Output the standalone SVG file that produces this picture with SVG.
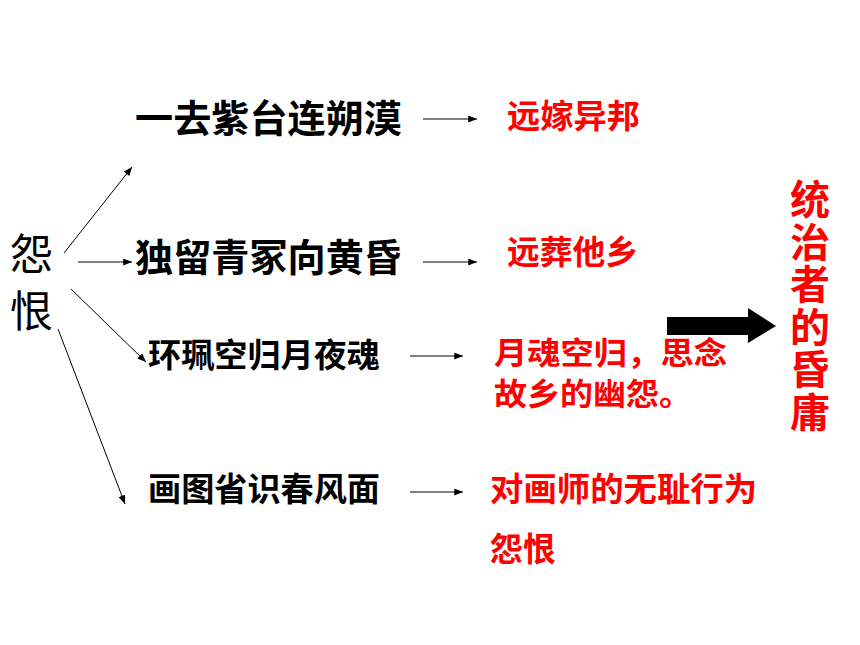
<svg xmlns="http://www.w3.org/2000/svg" width="860" height="645" viewBox="0 0 860 645">
<style>
.t{font-family:"Noto Sans CJK SC","Liberation Sans",sans-serif;font-weight:bold;fill:#000}
.n{font-family:"Noto Sans CJK SC","Liberation Sans",sans-serif;font-weight:normal;fill:#000}
.r{font-family:"Noto Sans CJK SC","Liberation Sans",sans-serif;font-weight:bold;fill:#ff0000}
.c{stroke:#000;stroke-width:1;fill:none;marker-end:url(#ah)}
</style>
<defs>
<marker id="ah" viewBox="0 0 10 8" refX="10" refY="4" markerWidth="9" markerHeight="7" markerUnits="userSpaceOnUse" orient="auto">
<path d="M0,0 L10,4 L0,8 z" fill="#000"/>
</marker>
</defs>
<rect width="860" height="645" fill="#fff"/>
<g id="root">
<text class="n" x="10" y="270" font-size="43">怨</text>
<text class="n" x="10" y="327" font-size="43">恨</text>
</g>
<g id="n1"><text class="t" x="135" y="132" font-size="38" textLength="267" lengthAdjust="spacingAndGlyphs">一去紫台连朔漠</text></g>
<g id="n2"><text class="t" x="135" y="271" font-size="38" textLength="267" lengthAdjust="spacingAndGlyphs">独留青冢向黄昏</text></g>
<g id="n3"><text class="t" x="148" y="367" font-size="33" textLength="232" lengthAdjust="spacingAndGlyphs">环珮空归月夜魂</text></g>
<g id="n4"><text class="t" x="148" y="501" font-size="33" textLength="232" lengthAdjust="spacingAndGlyphs">画图省识春风面</text></g>
<g id="r1"><text class="r" x="507" y="128" font-size="33" textLength="133" lengthAdjust="spacingAndGlyphs">远嫁异邦</text></g>
<g id="r2"><text class="r" x="507" y="264" font-size="33" textLength="131" lengthAdjust="spacingAndGlyphs">远葬他乡</text></g>
<g id="r3">
<text class="r" x="494" y="364" font-size="31" textLength="233" lengthAdjust="spacingAndGlyphs">月魂空归，思念</text>
<text class="r" x="494" y="405" font-size="31" textLength="198" lengthAdjust="spacingAndGlyphs">故乡的幽怨。</text>
</g>
<g id="r4">
<text class="r" x="490" y="501" font-size="33" textLength="267" lengthAdjust="spacingAndGlyphs">对画师的无耻行为</text>
<text class="r" x="490" y="561" font-size="33">怨恨</text>
</g>
<g id="result">
<text class="r" font-size="40" x="810" y="179" letter-spacing="2.5" style="writing-mode:vertical-rl">统治者的昏庸</text>
</g>
<g id="connectors">
<line class="c" x1="64" y1="253" x2="132" y2="167"/>
<line class="c" x1="78" y1="262" x2="132" y2="262"/>
<line class="c" x1="71" y1="289" x2="146" y2="362"/>
<line class="c" x1="58" y1="329" x2="125" y2="504"/>
<line class="c" x1="423" y1="119" x2="477" y2="119"/>
<line class="c" x1="423" y1="262" x2="477" y2="262"/>
<line class="c" x1="410" y1="356" x2="463" y2="356"/>
<line class="c" x1="410" y1="492" x2="463" y2="492"/>
<polygon points="667,317 748,317 748,308 776,326 748,343 748,335 667,335" fill="#000"/>
</g>
</svg>
